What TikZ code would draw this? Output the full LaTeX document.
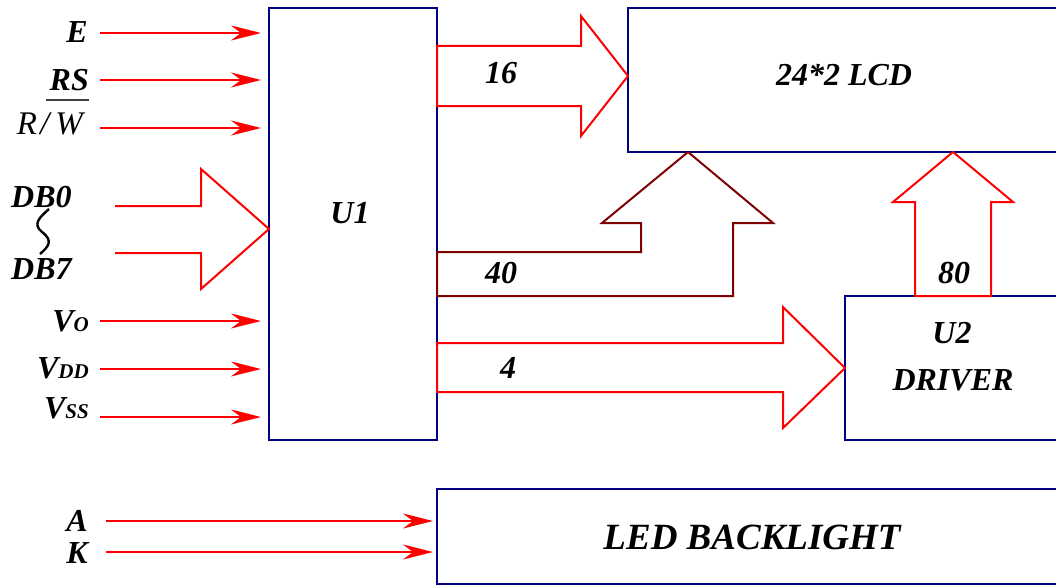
\documentclass[tikz,border=0pt]{standalone}
\usepackage{fontspec}
\setmainfont{Liberation Serif}
\usetikzlibrary{arrows.meta,calc}
\definecolor{navy}{HTML}{000080}
\definecolor{sigred}{HTML}{FF0000}
\definecolor{darkred}{HTML}{800000}
\begin{document}
\begin{tikzpicture}[x=1pt,y=-1pt,
  box/.style={draw=navy, line width=2pt, inner sep=0pt, outer sep=0pt, anchor=north west},
  lbl/.style={font=\fontsize{32}{32}\selectfont\bfseries\itshape, inner sep=0pt},
  lblbig/.style={font=\fontsize{37}{37}\selectfont\bfseries\itshape, inner sep=0pt},
  sig/.style={draw=sigred, line width=2pt, -{Stealth[length=30pt,width=15pt,inset=10pt]}},
  fatarrow/.style={draw=sigred, line width=2pt, line join=miter},
  fatdark/.style={draw=darkred, line width=2pt, line join=miter}]
\clip (0,0) rectangle (1056,586);
\newcommand{\smallsub}[1]{{\fontsize{21}{21}\selectfont #1}}
% boxes
\node[box, minimum width=168pt, minimum height=432pt] (u1) at (269,8) {};
\node[box, minimum width=430pt, minimum height=144pt] (lcd) at (628,8) {};
\node[box, minimum width=213pt, minimum height=144pt] (u2) at (845,296) {};
\node[box, minimum width=621pt, minimum height=95pt] (led) at (437,489) {};
% box texts
\node[lbl, anchor=base] (tu1) at (350,223) {U1};
\node[lbl, anchor=base] (tlcd) at (844,85) {24*2 LCD};
\node[lbl, anchor=base] (tu2) at (952,343) {U2};
\node[lbl, anchor=base] (tdrv) at (953,390) {DRIVER};
\node[lblbig, anchor=base] (tled) at (752,549) {LED BACKLIGHT};
% fat arrows
\draw[fatarrow] (437,46) -- (581,46) -- (581,16) -- (lcd.west |- 0,76) -- (581,136) -- (581,106) -- (437,106) -- cycle;
\draw[fatdark] (437,252) -- (641,252) -- (641,223) -- (602,223) -- (688,152) -- (773,223) -- (733,223) -- (733,296) -- (437,296) -- cycle;
\draw[fatarrow] (915,296) -- (915,202) -- (893,202) -- (953,152) -- (1013,202) -- (991,202) -- (991,296) -- cycle;
\draw[fatarrow] (437,343) -- (783,343) -- (783,307) -- (u2.west |- 0,368) -- (783,428) -- (783,392) -- (437,392) -- cycle;
\draw[fatarrow] (115,206) -- (201,206) -- (201,169) -- (u1.west |- 0,229) -- (201,289) -- (201,253) -- (115,253);
% bus labels
\node[lbl, anchor=base] (n16) at (501,83) {16};
\node[lbl, anchor=base] (n40) at (501,283) {40};
\node[lbl, anchor=base] (n80) at (954,283) {80};
\node[lbl, anchor=base] (n4) at (508,378) {4};
% left labels
\node[lbl, anchor=base east] (lE) at (88,43) {E};
\node[lbl, anchor=base east] (lRS) at (89,90) {RS};
\node[font=\fontsize{33}{33}\selectfont\itshape, inner sep=0pt, anchor=base east] (lRW) at (83,134) {R\kern3pt/\kern6pt W};
\draw[black!75, line width=1.2pt] (46,100) -- (89,100);
\node[lbl, anchor=base west] (lDB0) at (11,207) {DB0};
\node[lbl, anchor=base west] (lDB7) at (11,279) {DB7};
\draw[black, line width=2.4pt] (49,209) .. controls (40,217) and (32,224) .. (42,232) .. controls (54,241) and (48,247) .. (40,254);
\node[lbl, anchor=base east] (lVO) at (89,331) {V\smallsub{O}};
\node[lbl, anchor=base east] (lVDD) at (89,378) {V\smallsub{DD}};
\node[lbl, anchor=base east] (lVSS) at (89,418) {V\smallsub{SS}};
\node[lbl, anchor=base east] (lA) at (88,531) {A};
\node[lbl, anchor=base east] (lK) at (88,563) {K};
% signal arrows
\coordinate (sE) at (100,33);
\coordinate (sRS) at (100,80);
\coordinate (sRW) at (100,128);
\coordinate (sVO) at (100,321);
\coordinate (sVDD) at (100,369);
\coordinate (sVSS) at (100,417);
\coordinate (sA) at (106,521);
\coordinate (sK) at (106,552);
\foreach \s in {sE,sRS,sRW,sVO,sVDD,sVSS}{
  \draw[sig, shorten >=8pt] (\s) -- (\s -| u1.west);
}
\draw[sig, shorten >=4pt] (sA) -- (sA -| led.west);
\draw[sig, shorten >=4pt] (sK) -- (sK -| led.west);
\end{tikzpicture}
\end{document}
